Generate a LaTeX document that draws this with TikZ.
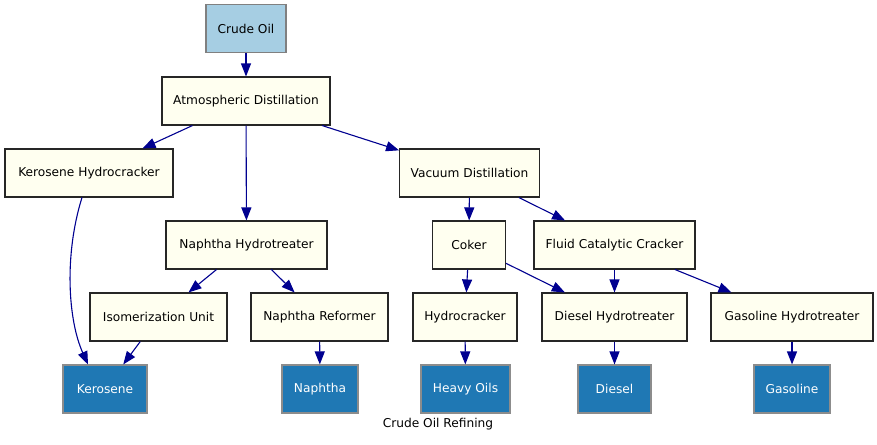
\documentclass[tikz,border=0pt]{standalone}
\usepackage{fontspec}
\setmainfont{DejaVu Sans}
\usepackage{xcolor}
\usepackage{tikz}
\usetikzlibrary{arrows.meta}
\usetikzlibrary{positioning}
\definecolor{crudeblue}{HTML}{A6CEE3}
\definecolor{prodblue}{HTML}{1F78B4}
\definecolor{unitfill}{HTML}{FFFFF0}
\definecolor{edgeblue}{HTML}{000090}
\tikzset{>={Triangle[length=13pt,width=10pt]}}
\tikzstyle{box} = [rectangle, minimum height=48, inner xsep=11, line width=1.1, font=\fontsize{12.2}{14}\selectfont]
\tikzstyle{unit} = [box, draw=black!85, fill=unitfill]
\tikzstyle{crude} = [box, draw=black!50, fill=crudeblue]
\tikzstyle{prod} = [box, draw=black!45, fill=prodblue, text=white]
\tikzstyle{flow} = [->, draw=edgeblue, line width=1.1]

\begin{document}
\begin{tikzpicture}[x=1pt, y=-1pt]
\useasboundingbox (0,0) rectangle (877,444);
%\node at (438,5) {top};
\node [crude, minimum width=80] (C) at (246, 28.5) {Crude Oil};
\node [unit, minimum width=168] (AD) at (246, 101) {Atmospheric Distillation};
\node [unit, minimum width=168] (KH) at (89, 173) {Kerosene Hydrocracker};
\node [unit, minimum width=139] (VD) at (469.5, 173) {Vacuum Distillation};
\node [unit, minimum width=161] (NH) at (246.5, 245) {Naphtha Hydrotreater};
\node [unit, minimum width=73] (CK) at (469, 245) {Coker};
\node [unit, minimum width=161] (FCC) at (614.5, 245) {Fluid Catalytic Cracker};
\node [unit, minimum width=137] (IU) at (158.5, 317) {Isomerization Unit};
\node [unit, minimum width=137] (NR) at (319.5, 317) {Naphtha Reformer};
\node [unit, minimum width=104] (HC) at (465, 317) {Hydrocracker};
\node [unit, minimum width=145] (DH) at (614.5, 317) {Diesel Hydrotreater};
\node [unit, minimum width=162] (GH) at (792, 317) {Gasoline Hydrotreater};
\node [prod, minimum width=84] (K) at (105, 389) {Kerosene};
\node [prod, minimum width=76] (N) at (320, 389) {Naphtha};
\node [prod, minimum width=89] (HO) at (465.5, 389) {Heavy Oils};
\node [prod, minimum width=73] (D) at (614.5, 389) {Diesel};
\node [prod, minimum width=76] (G) at (792, 389) {Gasoline};
\node [draw = none, inner sep = 1, font=\fontsize{12.2}{14}\selectfont] (T) at (438, 424) {Crude Oil Refining};
\draw [flow] (C) to (AD);
\draw [flow] (AD) to (KH);
\draw [flow] (AD) to (NH);
\draw [flow] (AD) to (VD);
\draw [flow] ([xshift=-7]KH.south) .. controls (64,255) and (68,320) .. ([xshift=-17]K.north);
\draw [flow] (NH) to (IU);
\draw [flow] (NH) to (NR);
\draw [flow] (IU) to (K);
\draw [flow] (NR) to (N);
\draw [flow] (VD) to (CK);
\draw [flow] (VD) to (FCC);
\draw [flow] (CK) to (HC);
\draw [flow] (CK) to (DH);
\draw [flow] (FCC) to (DH);
\draw [flow] (FCC) to (GH);
\draw [flow] (HC) to (HO);
\draw [flow] (DH) to (D);
\draw [flow] (GH) to (G);
\end{tikzpicture}
\end{document}
